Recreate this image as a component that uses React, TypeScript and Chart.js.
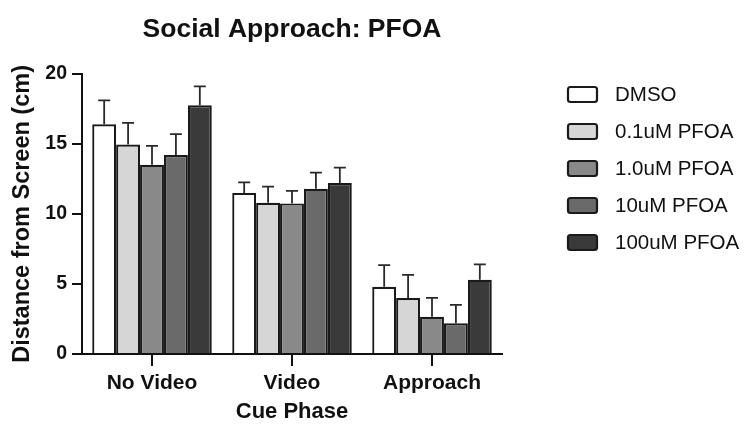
import React, { useEffect, useRef } from "react";
import { Chart, registerables } from "chart.js";

Chart.register(...registerables);

// Cue phases on the x axis
const categories = ["No Video", "Video", "Approach"];

// Treatment groups
const groups = ["DMSO", "0.1uM PFOA", "1.0uM PFOA", "10uM PFOA", "100uM PFOA"];

// Mean distance from screen (cm) per group, ordered by cue phase
const dmso = [16.4, 11.5, 4.8];
const pfoa01 = [14.95, 10.8, 4.0];
const pfoa1 = [13.5, 10.75, 2.65];
const pfoa10 = [14.2, 11.8, 2.2];
const pfoa100 = [17.75, 12.2, 5.3];

// Upper error (SEM) per group, ordered by cue phase
const dmsoErr = [1.7, 0.75, 1.55];
const pfoa01Err = [1.55, 1.15, 1.65];
const pfoa1Err = [1.35, 0.9, 1.35];
const pfoa10Err = [1.5, 1.15, 1.3];
const pfoa100Err = [1.35, 1.1, 1.1];

// Y axis ticks
const yTicks = [0, 5, 10, 15, 20];

const seriesValues = [dmso, pfoa01, pfoa1, pfoa10, pfoa100];
const seriesErrors = [dmsoErr, pfoa01Err, pfoa1Err, pfoa10Err, pfoa100Err];
const fills = ["#ffffff", "#d6d6d6", "#898989", "#6a6a6a", "#3a3a3a"];

const FONT = "'Liberation Sans', Arial, Helvetica, sans-serif";
const INK = "#111111";

// Upward error bars with a cap, drawn on top of each bar
const errorBarPlugin = {
  id: "errorBars",
  afterDatasetsDraw(chart: any) {
    const { ctx } = chart;
    const yScale = chart.scales.y;
    ctx.save();
    ctx.strokeStyle = "#2a2a2a";
    ctx.lineWidth = 1.8;
    chart.data.datasets.forEach((ds: any, di: number) => {
      const meta = chart.getDatasetMeta(di);
      meta.data.forEach((bar: any, i: number) => {
        const v = ds.data[i];
        const e = ds.errors[i];
        const yTop = yScale.getPixelForValue(v + e);
        const yBar = yScale.getPixelForValue(v);
        const half = 6;
        ctx.beginPath();
        ctx.moveTo(bar.x, yBar);
        ctx.lineTo(bar.x, yTop);
        ctx.moveTo(bar.x - half, yTop);
        ctx.lineTo(bar.x + half, yTop);
        ctx.stroke();
      });
    });
    ctx.restore();
  },
};

// Vertical legend at the right of the plot
const sideLegendPlugin = {
  id: "sideLegend",
  afterDraw(chart: any) {
    const { ctx } = chart;
    const x0 = 568;
    const y0 = 87;
    const step = 37;
    const bw = 29;
    const bh = 15;
    ctx.save();
    chart.data.datasets.forEach((ds: any, i: number) => {
      const y = y0 + i * step;
      ctx.beginPath();
      if ((ctx as any).roundRect) (ctx as any).roundRect(x0, y, bw, bh, 2.5);
      else ctx.rect(x0, y, bw, bh);
      ctx.fillStyle = ds.backgroundColor;
      ctx.fill();
      ctx.lineWidth = 2.2;
      ctx.strokeStyle = "#1a1a1a";
      ctx.stroke();
      ctx.fillStyle = INK;
      ctx.font = `20.5px ${FONT}`;
      ctx.textBaseline = "middle";
      ctx.textAlign = "left";
      ctx.fillText(ds.label, 615, y + bh / 2 + 0.5);
    });
    ctx.restore();
  },
};

export default function App() {
  const canvasRef = useRef<HTMLCanvasElement | null>(null);

  useEffect(() => {
    document.body.style.margin = "0";
    const canvas = canvasRef.current;
    if (!canvas) return;

    const chart = new Chart(canvas, {
      type: "bar",
      data: {
        labels: categories,
        datasets: groups.map((g, i) => ({
          label: g,
          data: seriesValues[i],
          errors: seriesErrors[i],
          backgroundColor: fills[i],
          borderColor: "#1a1a1a",
          borderWidth: 2.2,
          barPercentage: 1.0,
          categoryPercentage: 0.854,
        })) as any,
      },
      options: {
        responsive: false,
        animation: false,
        devicePixelRatio: 1,
        layout: { padding: { left: 0, right: 251, top: 0, bottom: 0 } },
        plugins: {
          legend: { display: false },
          tooltip: { enabled: false },
          title: {
            display: true,
            fullSize: false,
            text: "Social Approach: PFOA",
            color: INK,
            font: { family: FONT, size: 26.5, weight: "bold" },
            padding: { top: 14, bottom: 28 },
          },
        },
        scales: {
          x: {
            type: "category",
            offset: true,
            grid: {
              display: true,
              offset: false,
              drawOnChartArea: false,
              drawTicks: true,
              tickLength: 12,
              color: "#111",
              lineWidth: 2,
            },
            border: { display: true, color: "#111", width: 2 },
            ticks: {
              color: INK,
              padding: 5,
              font: { family: FONT, size: 21, weight: "bold" },
            },
            title: {
              display: true,
              text: "Cue Phase",
              color: INK,
              font: { family: FONT, size: 22, weight: "bold" },
              padding: { top: 0, bottom: 0 },
            },
            afterFit(scale: any) {
              scale.height = 71;
            },
          },
          y: {
            min: 0,
            max: 20,
            afterBuildTicks(scale: any) {
              scale.ticks = yTicks.map((v) => ({ value: v }));
            },
            grid: {
              display: true,
              drawOnChartArea: false,
              drawTicks: true,
              tickLength: 10,
              color: "#111",
              lineWidth: 2,
            },
            border: { display: true, color: "#111", width: 2 },
            ticks: {
              color: INK,
              padding: 5,
              font: { family: FONT, size: 19.5, weight: "bold" },
            },
            title: {
              display: true,
              text: "Distance from Screen (cm)",
              color: INK,
              font: { family: FONT, size: 23.5, weight: "bold" },
              padding: { top: 8, bottom: 0 },
            },
            afterFit(scale: any) {
              scale.width = 82;
            },
          },
        },
      },
      plugins: [errorBarPlugin, sideLegendPlugin],
    });

    return () => chart.destroy();
  }, []);

  return (
    <div style={{ width: 753, height: 425, background: "#ffffff" }}>
      <canvas ref={canvasRef} width={753} height={425} />
    </div>
  );
}
